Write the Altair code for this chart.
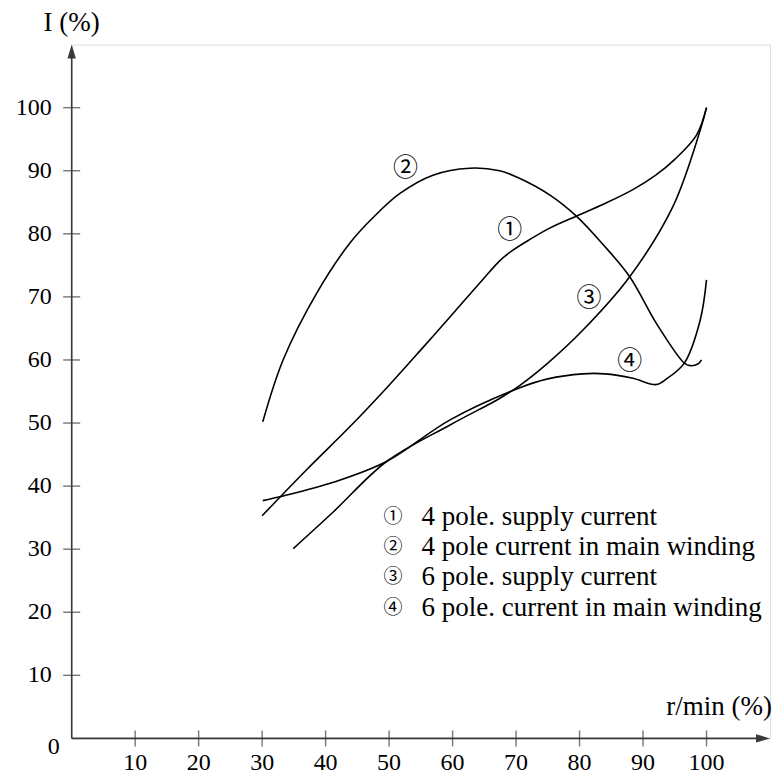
import altair as alt
import pandas as pd

# ---- data ----
C1_X = [30, 37, 44, 50, 55, 60, 64.8, 67.5, 69.5, 72, 75.3, 79.5, 84, 88.4, 92, 95, 98.4, 100]
C1_Y = [35.3, 42.6, 49.6, 56.0, 61.6, 67.3, 72.8, 75.8, 77.4, 79.0, 80.9, 82.8, 84.8, 87.0, 89.3, 91.8, 95.6, 100]

C2_X = [30.1, 33.3, 38.6, 43.8, 47.4, 51.7, 56.9, 62.7, 67.4, 70.1, 75.4, 79.5, 83.7, 87.9, 92.1, 96.5, 97.4, 98.7, 99.2]
C2_Y = [50.2, 60.0, 70.6, 78.5, 82.5, 86.4, 89.3, 90.4, 90.0, 89.0, 86.1, 82.8, 78.3, 73.2, 65.8, 59.5, 59.1, 59.4, 60.0]

C3_X = [34.9, 41.2, 49.6, 59.6, 67.4, 70.5, 75, 80.5, 87.9, 94.7, 99.0, 100]
C3_Y = [30.1, 35.9, 43.9, 49.7, 53.9, 55.9, 59.5, 64.7, 73.2, 84.3, 96.4, 100]

C4_X = [30.1, 33.6, 41.2, 49.6, 59.6, 70.6, 75, 80.5, 84, 88.4, 92.1, 93.7, 96.5, 99.0, 100]
C4_Y = [37.7, 38.5, 40.6, 43.9, 50.5, 55.6, 57.0, 57.8, 57.8, 57.1, 56.1, 57.0, 59.5, 66.3, 72.7]

CURVE_MARKS = ["①", "②", "③", "④"]
CURVE_MARK_X = [69.0, 52.6, 81.5, 87.9]
CURVE_MARK_Y = [80.6, 90.4, 69.8, 59.8]

LEGEND_LABELS = [
    "4 pole. supply current",
    "4 pole current in main winding",
    "6 pole. supply current",
    "6 pole. current in main winding",
]

X_TICKS = [10, 20, 30, 40, 50, 60, 70, 80, 90, 100]
Y_TICKS = [10, 20, 30, 40, 50, 60, 70, 80, 90, 100]
AXIS_MAX = 110
X_TITLE = "r/min (%)"
Y_TITLE = "I (%)"

# ---- tables ----
rows = []
for name, xs_, ys_ in [("1", C1_X, C1_Y), ("2", C2_X, C2_Y), ("3", C3_X, C3_Y), ("4", C4_X, C4_Y)]:
    for i, (a, b) in enumerate(zip(xs_, ys_)):
        rows.append({"curve": name, "i": i, "x": a, "y": b})
curves = pd.DataFrame(rows)
marks_df = pd.DataFrame({"t": CURVE_MARKS, "x": CURVE_MARK_X, "y": CURVE_MARK_Y})
xt = pd.DataFrame({"v": X_TICKS, "lab": [str(v) for v in X_TICKS]})
yt = pd.DataFrame({"v": Y_TICKS, "lab": [str(v) for v in Y_TICKS]})
one = pd.DataFrame({"a": [0]})

XS = alt.Scale(domain=[0, AXIS_MAX], nice=False)
YS = alt.Scale(domain=[0, AXIS_MAX], nice=False)
SERIF = "Liberation Serif, Times New Roman, serif"
CIRC = "Noto Sans CJK SC, DejaVu Sans, sans-serif"
AX = "#3a3a3a"

lines = alt.Chart(curves).mark_line(color="black", strokeWidth=1.6, interpolate="catmull-rom").encode(
    x=alt.X("x:Q", scale=XS, axis=None),
    y=alt.Y("y:Q", scale=YS, axis=None),
    detail="curve:N",
    order="i:Q",
)

yaxis = alt.Chart(one).mark_rule(color=AX, strokeWidth=1.6).encode(
    x=alt.datum(0), y=alt.datum(0), y2=alt.datum(AXIS_MAX - 1)
)
xaxis = alt.Chart(one).mark_rule(color=AX, strokeWidth=1.6).encode(
    y=alt.datum(0), x=alt.datum(0), x2=alt.datum(AXIS_MAX - 1)
)
up_arrow = alt.Chart(one).mark_point(
    shape="M0,0L-0.6,2L0.6,2Z", filled=True, size=196, color=AX, opacity=1, strokeWidth=0
).encode(x=alt.datum(0), y=alt.datum(AXIS_MAX))
right_arrow = alt.Chart(one).mark_point(
    shape="M0,0L-2,-0.6L-2,0.6Z", filled=True, size=196, color=AX, opacity=1, strokeWidth=0
).encode(x=alt.datum(AXIS_MAX), y=alt.datum(0))

xticks = alt.Chart(xt).mark_tick(orient="vertical", size=16, thickness=1.4, color=AX).encode(
    x="v:Q", y=alt.datum(0)
)
yticks = alt.Chart(yt).mark_tick(orient="horizontal", size=17, thickness=1.4, color=AX).encode(
    y="v:Q", x=alt.datum(0)
)
xlabels = alt.Chart(xt).mark_text(font=SERIF, fontSize=24, dy=25, baseline="middle", align="center", color="black").encode(
    x="v:Q", y=alt.datum(0), text="lab:N"
)
ylabels = alt.Chart(yt).mark_text(font=SERIF, fontSize=24, dx=-20, baseline="middle", align="right", color="black").encode(
    y="v:Q", x=alt.datum(0), text="lab:N"
)
zero_label = alt.Chart(one).mark_text(font=SERIF, fontSize=24, dx=-18, dy=9, baseline="middle", align="center", text="0", color="black").encode(
    x=alt.datum(0), y=alt.datum(0)
)
ytitle = alt.Chart(one).mark_text(font=SERIF, fontSize=27, dy=-22, baseline="middle", align="center", text=Y_TITLE, color="black").encode(
    x=alt.datum(0), y=alt.datum(AXIS_MAX)
)
xtitle = alt.Chart(one).mark_text(font=SERIF, fontSize=27, dy=-31, dx=2, baseline="middle", align="right", text=X_TITLE, color="black").encode(
    x=alt.datum(AXIS_MAX), y=alt.datum(0)
)

curve_marks = alt.Chart(marks_df).mark_text(font=CIRC, fontSize=25, baseline="middle", align="center", color="black").encode(
    x="x:Q", y="y:Q", text="t:N"
)

legend_nums = alt.Chart(one).mark_text(
    font=CIRC, fontSize=19, lineHeight=30.2, baseline="middle", align="center",
    text=CURVE_MARKS, color="black"
).encode(x=alt.value(321.5), y=alt.value(472.5))
legend_text = alt.Chart(one).mark_text(
    font=SERIF, fontSize=27, lineHeight=30.2, baseline="middle", align="left",
    text=LEGEND_LABELS, color="black"
).encode(x=alt.value(350), y=alt.value(472.5))

chart = alt.layer(
    lines, yaxis, xaxis, up_arrow, right_arrow, xticks, yticks, xlabels, ylabels, zero_label,
    ytitle, xtitle, curve_marks, legend_nums, legend_text
).properties(
    width=698.5, height=694, autosize=alt.AutoSizeParams(type="none"),
    padding={"left": 63.7, "top": 36.5, "right": 4, "bottom": 40},
).configure_view(stroke=None).configure(background="white")

chart.save("out.html", embed_options={"renderer": "svg", "actions": False})
